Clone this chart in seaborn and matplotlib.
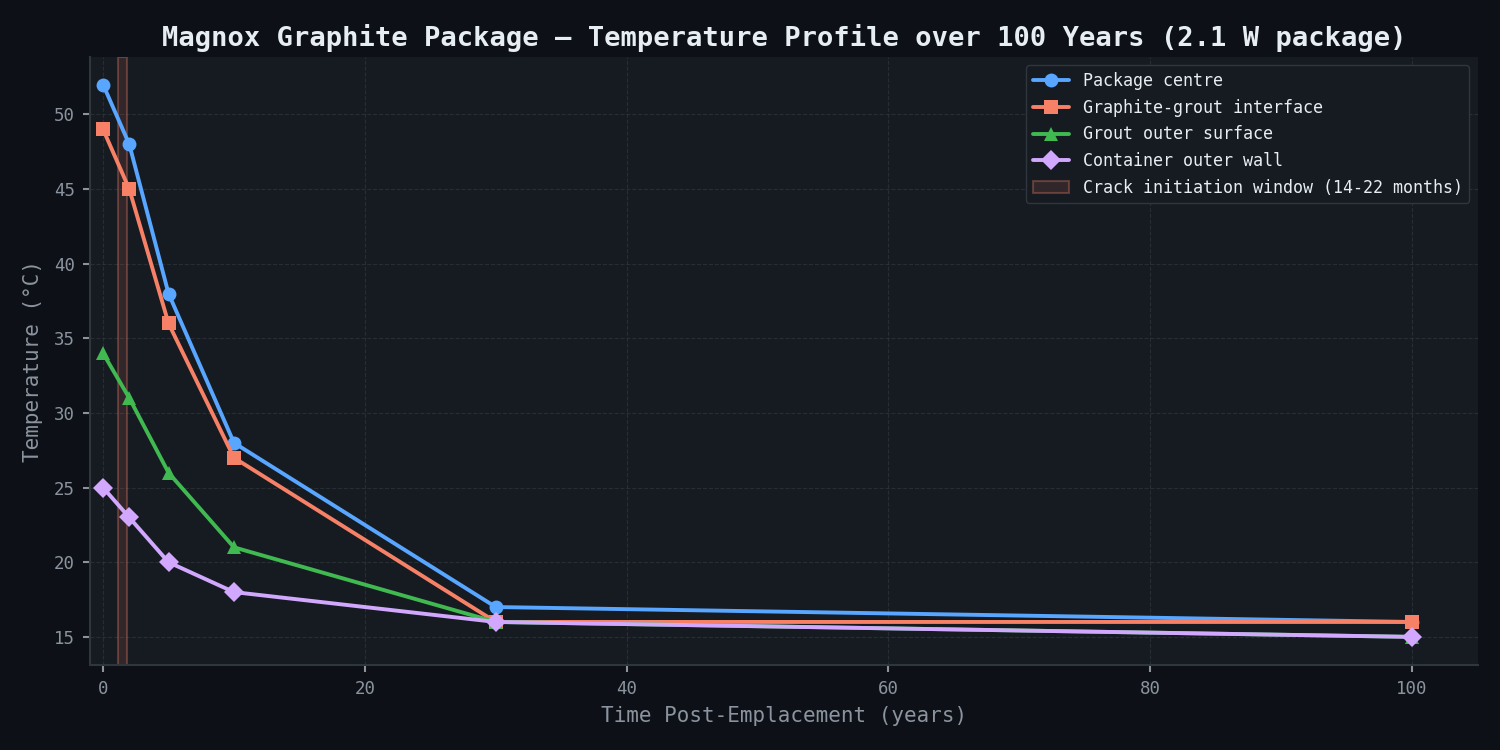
import matplotlib
matplotlib.use("Agg")
import matplotlib.pyplot as plt
import pandas as pd
import seaborn as sns

years = [0, 2, 5, 10, 30, 100]
package_centre = [52, 48, 38, 28, 17, 16]
graphite_grout = [49, 45, 36, 27, 16, 16]
grout_outer = [34, 31, 26, 21, 16, 15]
container_wall = [25, 23, 20, 18, 16, 15]
series_names = ["Package centre", "Graphite-grout interface",
                "Grout outer surface", "Container outer wall"]
crack_start_months = 14
crack_end_months = 22

colors = ["#58a6ff", "#f78166", "#3fb950", "#d2a8ff"]
markers = ["o", "s", "^", "D"]

sns.set_theme(style="dark")
plt.rcParams['font.family'] = ['DejaVu Sans Mono']
plt.rcParams.update({
    "figure.facecolor": "#0d1117",
    "axes.facecolor": "#161b22",
    "axes.edgecolor": "#30363d",
    "text.color": "#e6edf3",
    "axes.labelcolor": "#8b949e",
    "xtick.color": "#8b949e",
    "ytick.color": "#8b949e",
})

rows = []
for name, vals in zip(series_names, [package_centre, graphite_grout, grout_outer, container_wall]):
    for t, v in zip(years, vals):
        rows.append({"years": t, "temp": v, "series": name})
df = pd.DataFrame(rows)

fig, ax = plt.subplots(figsize=(15, 7.5), dpi=100)

for name, c, m in zip(series_names, colors, markers):
    d = df[df["series"] == name]
    sns.lineplot(data=d, x="years", y="temp", ax=ax, color=c, marker=m,
                 markersize=10, linewidth=2.8, markeredgewidth=0, label=name)

ax.axvspan(crack_start_months / 12, crack_end_months / 12,
           facecolor=(0.97, 0.51, 0.40, 0.12), edgecolor=(0.97, 0.51, 0.40, 0.3),
           linewidth=1.5, label="Crack initiation window (14-22 months)")

ax.set_xlim(-1, 105)
ax.grid(True, color="#30363d", linestyle="--", linewidth=0.8, alpha=0.7)
ax.tick_params(axis="both", labelsize=12.5, length=5, width=1.5, pad=6,
               colors="#8b949e", bottom=True, left=True)
for s in ax.spines.values():
    s.set_color("#30363d")
    s.set_linewidth(1.5)
ax.spines["top"].set_visible(False)
ax.spines["right"].set_visible(False)

ax.set_xlabel("Time Post-Emplacement (years)", fontsize=15, color="#8b949e", labelpad=6)
ax.set_ylabel("Temperature (°C)", fontsize=15, color="#8b949e", labelpad=8)
ax.set_title("Magnox Graphite Package — Temperature Profile over 100 Years (2.1 W package)",
             fontsize=19.5, fontweight="bold", color="#e6edf3", pad=8)

leg = ax.legend(loc="upper right", fontsize=12, facecolor="#161b22", edgecolor="#30363d",
                labelcolor="#e6edf3", framealpha=1, handlelength=2.2, labelspacing=0.52)

plt.subplots_adjust(left=0.06, right=0.985, top=0.924, bottom=0.114)
plt.savefig("out.png", dpi=100, facecolor=fig.get_facecolor())
